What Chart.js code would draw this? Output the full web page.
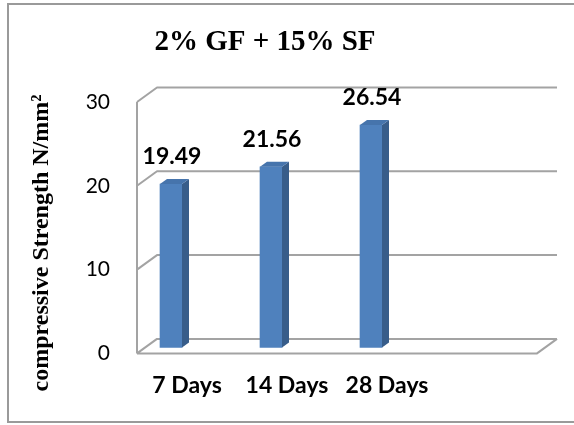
<!DOCTYPE html>
<html><head><meta charset="utf-8">
<script src="https://cdn.jsdelivr.net/npm/chart.js@4.4.0/dist/chart.umd.min.js"></script>
<style>html,body{margin:0;padding:0;background:#fff;}#wrap{position:relative;width:574px;height:425px;}</style>
</head><body><div id="wrap"><canvas id="c" width="574" height="425"></canvas></div>
<script>
const chartTitle = '2% GF + 15% SF';
const yAxisTitle = 'compressive Strength N/mm²';
const categories = ['7 Days', '14 Days', '28 Days'];
const strength = [19.49, 21.56, 26.54];
const yMin = 0, yMax = 30, yStep = 10;

const WALL = {dx: 20, dy: -14.5, extend: 100, color: '#A3A3A3'};
const BAR_SHIFT = {dx: -16, dy: -6};
const BAR_DEPTH = {dx: 7, dy: -5};

const threeD = {
  id: 'threeD',
  beforeDraw(chart) {
    const ctx = chart.ctx;
    ctx.save();
    ctx.fillStyle = '#fff';
    ctx.fillRect(0, 0, chart.width, chart.height);
    ctx.strokeStyle = '#9A9A9A';
    ctx.lineWidth = 2;
    ctx.strokeRect(8, 4, chart.width + 10, 418);
    ctx.fillStyle = '#000';
    ctx.font = 'bold 29px "Liberation Serif"';
    ctx.textAlign = 'center';
    ctx.textBaseline = 'middle';
    ctx.fillText(chartTitle, 265, 43);
    ctx.translate(42, 243);
    ctx.rotate(-Math.PI / 2);
    ctx.font = 'bold 24px "Liberation Serif"';
    ctx.fillText(yAxisTitle, 0, 0);
    ctx.restore();
  },
  beforeDatasetsDraw(chart) {
    const ctx = chart.ctx, ys = chart.scales.y, ca = chart.chartArea;
    const left = ca.left, frontRight = ca.right + WALL.extend;
    ctx.save();
    ctx.strokeStyle = WALL.color;
    ctx.lineWidth = 2;
    ctx.lineJoin = 'round';
    ctx.beginPath();
    ctx.moveTo(left, ys.getPixelForValue(yMax));
    ctx.lineTo(left, ys.getPixelForValue(yMin));
    ys.ticks.forEach(t => {
      const yf = ys.getPixelForValue(t.value);
      const yb = yf + WALL.dy;
      ctx.moveTo(left, yf);
      ctx.lineTo(left + WALL.dx, yb);
      ctx.lineTo(frontRight + WALL.dx, yb);
      if (t.value === yMin) {
        ctx.moveTo(left, yf);
        ctx.lineTo(frontRight, yf);
        ctx.lineTo(frontRight + WALL.dx, yb);
      }
    });
    ctx.stroke();
    ctx.restore();
    ctx.save();
    ctx.translate(BAR_SHIFT.dx, BAR_SHIFT.dy);
  },
  afterDatasetsDraw(chart) {
    const ctx = chart.ctx;
    const meta = chart.getDatasetMeta(0);
    meta.data.forEach((bar, i) => {
      const {x, y, base, width} = bar.getProps(['x', 'y', 'base', 'width'], true);
      const l = x - width / 2, r = x + width / 2;
      ctx.fillStyle = '#385D8A';
      ctx.beginPath();
      ctx.moveTo(r, base);
      ctx.lineTo(r, y);
      ctx.lineTo(r + BAR_DEPTH.dx, y + BAR_DEPTH.dy);
      ctx.lineTo(r + BAR_DEPTH.dx, base + BAR_DEPTH.dy);
      ctx.closePath();
      ctx.fill();
      ctx.fillStyle = '#4674AC';
      ctx.beginPath();
      ctx.moveTo(l, y);
      ctx.lineTo(r, y);
      ctx.lineTo(r + BAR_DEPTH.dx, y + BAR_DEPTH.dy);
      ctx.lineTo(l + BAR_DEPTH.dx, y + BAR_DEPTH.dy);
      ctx.closePath();
      ctx.fill();
      ctx.fillStyle = '#000';
      ctx.font = 'bold 23px Lato';
      ctx.textAlign = 'center';
      ctx.textBaseline = 'alphabetic';
      ctx.fillText(strength[i].toFixed(2), x + 1, y - 20);
    });
    ctx.restore();
  }
};

new Chart(document.getElementById('c'), {
  type: 'bar',
  data: {
    labels: categories,
    datasets: [{
      data: strength,
      backgroundColor: '#4F81BD',
      borderWidth: 0,
      barThickness: 22,
      clip: false
    }]
  },
  plugins: [threeD],
  options: {
    responsive: false,
    animation: false,
    events: [],
    layout: {padding: {left: 8, right: 137, top: 102, bottom: 8}},
    plugins: {
      legend: {display: false},
      tooltip: {enabled: false},
      title: {display: false}
    },
    scales: {
      x: {
        grid: {display: false, drawTicks: false},
        border: {display: false},
        ticks: {color: '#000', font: {family: 'Lato', size: 23, weight: 'bold'}, padding: 18}
      },
      y: {
        min: yMin, max: yMax,
        afterFit(s) { s.width = 129; },
        grid: {display: false, drawTicks: false},
        border: {display: false},
        ticks: {stepSize: yStep, color: '#000', font: {family: 'Lato', size: 21}, padding: 27}
      }
    }
  }
});
</script></body></html>
